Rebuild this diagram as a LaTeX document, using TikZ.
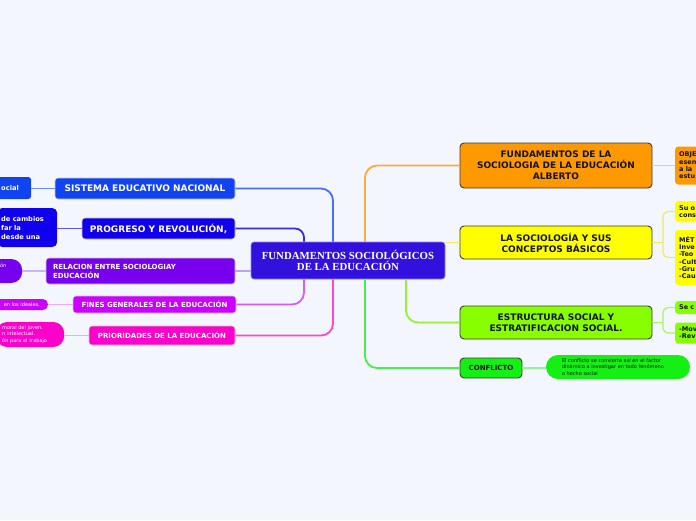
\documentclass[tikz,border=0pt]{standalone}
\usepackage{fontspec}
\setmainfont{DejaVu Sans}
\newfontfamily\titlefont{Liberation Serif}
\usepackage{xcolor}
\definecolor{PageBg}{RGB}{243,246,253}
\definecolor{CentFill}{RGB}{51,17,221}
\definecolor{CentEdge}{RGB}{140,130,255}
\definecolor{FillSis}{RGB}{17,68,240}
\definecolor{FillProg}{RGB}{17,0,238}
\definecolor{FillRel}{RGB}{119,0,238}
\definecolor{FillFin}{RGB}{204,0,255}
\definecolor{FillPri}{RGB}{255,0,204}
\definecolor{FillOrange}{RGB}{255,153,0}
\definecolor{FillYellow}{RGB}{255,255,0}
\definecolor{FillLime}{RGB}{136,255,0}
\definecolor{FillGreen}{RGB}{20,240,20}
\definecolor{BorderDark}{RGB}{60,60,60}
\definecolor{EdgeLight}{RGB}{205,205,215}
\definecolor{TextDark}{RGB}{20,20,20}
\definecolor{LineSis}{RGB}{70,110,255}
\definecolor{LineProg}{RGB}{60,40,230}
\definecolor{LineRel}{RGB}{190,160,255}
\definecolor{LineFin}{RGB}{215,90,245}
\definecolor{LinePri}{RGB}{255,70,210}
\definecolor{LineOra}{RGB}{255,170,60}
\definecolor{LineYel}{RGB}{235,235,100}
\definecolor{LineLime}{RGB}{150,240,60}
\definecolor{LineGrn}{RGB}{70,240,70}
\usetikzlibrary{positioning, calc}
\tikzset{
  % central topic
  centbox/.style={
    rectangle, rounded corners=3pt,
    draw=CentEdge, line width=0.6pt, fill=CentFill,
    text=white, align=center,
    minimum width=194pt, minimum height=37pt,
    font=\titlefont\bfseries\fontsize{10.8}{10.5}\selectfont
  },
  % right main topics
  mainbox/.style={
    rectangle, rounded corners=4pt,
    draw=BorderDark, line width=0.9pt,
    text=TextDark, align=center,
    minimum width=192pt, minimum height=33pt, inner sep=2pt,
    font=\fontsize{9}{11}\selectfont\bfseries
  },
  % left main topics
  leftbox/.style={
    rectangle, rounded corners=3pt,
    draw=EdgeLight, line width=0.6pt,
    text=white, align=center, inner sep=2pt,
    font=\fontsize{9}{11}\selectfont\bfseries
  },
  smallcaps/.style={font=\fontsize{7}{9}\selectfont\bfseries},
  % sub topics
  subbox/.style={
    rectangle, rounded corners=3pt, text=TextDark,
    align=left, inner xsep=4pt, inner ysep=2pt, text width=40pt,
    font=\fontsize{6.5}{7.3}\selectfont\bfseries
  },
  pill/.style={
    rectangle, align=left, inner ysep=1pt,
    font=\fontsize{5}{6.5}\selectfont
  },
  % connectors
  branch/.style={line width=1.8pt, rounded corners=12pt},
  twig/.style={line width=1.2pt, rounded corners=5pt},
}

\begin{document}
\begin{tikzpicture}[x=1pt, y=-1pt]
  \useasboundingbox (0,0) rectangle (696,520);
  \fill[PageBg] (0,0) rectangle (696,520);
  \clip (0,0) rectangle (696,520);

  \node[centbox] (cent) at (348,260.5) {FUNDAMENTOS SOCIOLÓGICOS\\DE LA EDUCACIÓN};

  %% Right side
  \node[mainbox, fill=FillOrange, minimum height=45pt] (fsoc) at (556,165.5)
    {FUNDAMENTOS DE LA\\SOCIOLOGIA DE LA EDUCACIÓN\\ALBERTO};
  \node[mainbox, fill=FillYellow] (socb) at (556,242.5)
    {LA SOCIOLOGÍA Y SUS\\CONCEPTOS BÁSICOS};
  \node[mainbox, fill=FillLime] (estr) at (556,322.5)
    {ESTRUCTURA SOCIAL Y\\ESTRATIFICACION SOCIAL.};
  \node[mainbox, fill=FillGreen, minimum width=62pt, minimum height=20pt,
        smallcaps] (confl) at (491,368) {CONFLICTO};
  \node[pill, fill=FillGreen, rounded corners=12pt, text=TextDark,
        minimum width=144pt, minimum height=24pt, inner xsep=16pt,
        text width=112pt] (cpill) at (618,367)
    {El conflicto se convierte así en el factor\\dinámico a investigar en todo fenómeno\\o hecho social};

  \node[subbox, fill=FillOrange, anchor=west, minimum height=38pt]
    (osub) at (675,165.5) {OBJE\\esen\\a la\\estu};
  \node[subbox, fill=FillYellow, anchor=west, minimum height=21pt]
    (ysa) at (675,211.5) {Su o\\cons};
  \node[subbox, fill=FillYellow, anchor=west, minimum height=55pt]
    (ysb) at (675,257.5) {MÉT\\Inve\\-Teo\\-Cult\\-Gru\\-Cau};
  \node[subbox, fill=FillLime, anchor=west, minimum height=13pt]
    (esa) at (675,307.5) {Se c};
  \node[subbox, fill=FillLime, anchor=west, minimum height=21pt]
    (esb) at (675,333) {-Mov\\-Rev};

  %% Left side
  \node[leftbox, fill=FillSis, minimum width=180pt, minimum height=21pt]
    (sist) at (145,188.5) {SISTEMA EDUCATIVO NACIONAL};
  \node[leftbox, fill=FillProg, minimum width=153pt, minimum height=21pt]
    (prog) at (158.5,228.5) {PROGRESO Y REVOLUCIÓN,};
  \node[leftbox, fill=FillRel, smallcaps, align=left, inner xsep=7pt,
        text width=175pt, minimum height=26pt]
    (rel) at (140.5,271) {RELACION ENTRE SOCIOLOGIAY\\EDUCACIÓN};
  \node[leftbox, fill=FillFin, smallcaps, minimum width=163pt, minimum height=17pt]
    (fines) at (154.5,304.5) {FINES GENERALES DE LA EDUCACIÓN};
  \node[leftbox, fill=FillPri, smallcaps, minimum width=146pt, minimum height=19pt]
    (prior) at (162,335.5) {PRIORIDADES DE LA EDUCACIÓN};

  \node[subbox, fill=FillSis, text=white, anchor=west, text width=26pt,
        minimum height=22pt, font=\fontsize{6.7}{9}\selectfont\bfseries]
    (ssub) at (-3,188) {ocial};
  \node[subbox, fill=FillProg, text=white, anchor=west, text width=52pt,
        minimum height=39pt, rounded corners=5pt,
        font=\fontsize{6.7}{9}\selectfont\bfseries]
    (psub) at (-3,227.5) {de cambios\\far la\\desde una};
  \node[pill, fill=FillRel, text=white, rounded corners=11pt, anchor=west,
        minimum width=38pt, minimum height=24pt, text height=3.5pt, text depth=10pt]
    (rsub) at (-16,271) {ón};
  \node[pill, fill=FillFin, text=white, rounded corners=5pt, anchor=east,
        align=right, inner xsep=8pt, text width=48pt, minimum height=11pt]
    (fsub) at (48,304.5) {en los ideales,};
  \node[pill, fill=FillPri, text=white, rounded corners=11pt, anchor=west,
        inner xsep=6pt, text width=56pt, minimum height=25pt]
    (prsub) at (-4,334.5) {moral del joven.\\n intelectual.\\ón para el trabajo};

  %% Columns of the branches
  \coordinate (colA) at (304,0);
  \coordinate (colB) at (333,0);
  \coordinate (colC) at (365,0);
  \coordinate (colD) at (406,0);
  \coordinate (colY) at (663,0);

  %% Branches
  \draw[branch, LineSis] (cent.north -| colB) |- (sist.east);
  \draw[branch, LineProg, rounded corners=9pt] (cent.north -| colA) |- (prog.east);
  \draw[branch, LineRel] (cent.west |- rel.east) -- (rel.east);
  \draw[branch, LineFin] (cent.south -| colA) |- (fines.east);
  \draw[branch, LinePri] (cent.south -| colB) |- (prior.east);
  \draw[branch, LineOra] (cent.north -| colC) |- (fsoc.west);
  \draw[branch, LineYel] (cent.east |- socb.west) -- (socb.west);
  \draw[branch, LineLime] (cent.south -| colD) |- (estr.west);
  \draw[branch, LineGrn] (cent.south -| colC) |- (confl.west);

  %% Twigs
  \draw[twig, LineOra!70] (fsoc.east) -- (fsoc.east -| osub.west);
  \draw[twig, LineYel] (socb.east) -- (socb.east -| colY);
  \draw[twig, LineYel] (ysa.west) -| (colY |- ysb.west) -- (ysb.west);
  \draw[twig, LineLime!80] (estr.east) -- (estr.east -| colY);
  \draw[twig, LineLime!80] (esa.west) -| (colY |- esb.west) -- (esb.west);
  \draw[twig, LineGrn!60] (confl.east) -- (confl.east -| cpill.west);
  \draw[twig, LineSis!80] (sist.west) -- (sist.west -| ssub.east);
  \draw[twig, LineProg!80] (prog.west) -- (prog.west -| psub.east);
  \draw[twig, LineRel!80] (rel.west) -- (rel.west -| rsub.east);
  \draw[twig, LineFin!50] (fines.west) -- (fines.west -| fsub.east);
  \draw[twig, LinePri!50] (prior.west) -- (prior.west -| prsub.east);

\end{tikzpicture}
\end{document}
